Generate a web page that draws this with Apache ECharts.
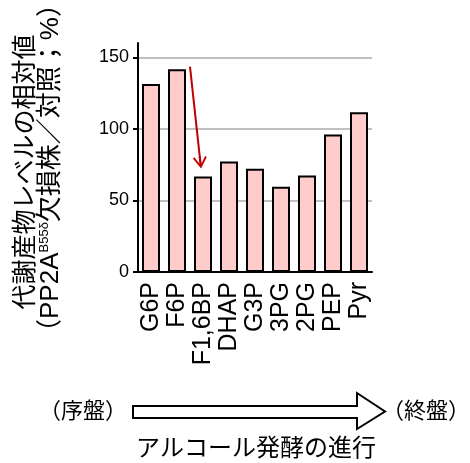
<!DOCTYPE html>
<html>
<head>
<meta charset="utf-8">
<script src="https://cdn.jsdelivr.net/npm/echarts@6/dist/echarts.min.js"></script>
<style>
html, body { margin: 0; padding: 0; background: #fff; }
#main { width: 470px; height: 463px; }
</style>
</head>
<body>
<div id="main"></div>
<script>
// 代謝産物 (解糖系の順)
var categories = ['G6P', 'F6P', 'F1,6BP', 'DHAP', 'G3P', '3PG', '2PG', 'PEP', 'Pyr'];
var values = [131.4, 141.7, 66.7, 77.2, 72.1, 59.5, 67.4, 96.0, 111.6];
var yTicks = [0, 50, 100, 150];
// 赤い矢印 (F6P → F1,6BP)
var arrowFrom = [1.5, 143.5];
var arrowTo = [1.9, 76.4];

var latin = "'Liberation Sans', Arial, 'Noto Sans CJK JP', sans-serif";
var cjk = "'Noto Sans CJK JP', 'Liberation Sans', sans-serif";

var chart = echarts.init(document.getElementById('main'));
var option = {
    animation: false,
    grid: {
        left: 138,
        right: 98,
        top: 43,
        bottom: 191
    },
    xAxis: [
        {
            type: 'category',
            data: categories,
            axisTick: { show: false },
            axisLine: { lineStyle: { color: '#000', width: 2 } },
            axisLabel: {
                interval: 0,
                rotate: 90,
                margin: 10,
                color: '#000',
                fontSize: 25,
                fontFamily: latin
            }
        },
        {
            // 矢印の位置決め用 (非表示)
            type: 'value',
            min: -0.5,
            max: 8.5,
            show: false
        }
    ],
    yAxis: {
        type: 'value',
        min: 0,
        max: 160,
        interval: 50,
        axisLine: { show: true, onZero: false, lineStyle: { color: '#000', width: 2 } },
        axisTick: {
            show: true,
            length: 5,
            customValues: yTicks,
            lineStyle: { color: '#000', width: 2 }
        },
        axisLabel: {
            margin: 9,
            color: '#000',
            fontSize: 18,
            fontFamily: latin,
            customValues: yTicks,
            formatter: function (v) { return v > 150 ? '' : v; }
        },
        splitLine: {
            lineStyle: {
                color: ['#c0c0c0', '#c0c0c0', '#c0c0c0', '#c0c0c0', 'rgba(0,0,0,0)'],
                width: 2
            }
        }
    },
    series: [
        {
            type: 'bar',
            data: values,
            barWidth: 18,
            itemStyle: {
                color: '#ffcccc',
                borderColor: '#000',
                borderWidth: 2
            }
        },
        {
            type: 'scatter',
            xAxisIndex: 1,
            data: [],
            silent: true,
            markLine: {
                silent: true,
                symbol: ['none', 'path://M7,0 L14,11 L12.4,12 L8,5 L8,12 L6,12 L6,5 L1.6,12 L0,11 Z'],
                symbolSize: [14, 12],
                label: { show: false },
                lineStyle: { color: '#c00000', width: 2, type: 'solid' },
                data: [[{ coord: arrowFrom }, { coord: arrowTo }]]
            }
        }
    ],
    graphic: [
        {
            type: 'text',
            x: 23,
            y: 172,
            rotation: Math.PI / 2,
            style: {
                text: '代謝産物レベルの相対値',
                fontSize: 25,
                fontFamily: cjk,
                fill: '#000',
                align: 'center',
                verticalAlign: 'middle'
            }
        },
        {
            type: 'text',
            x: 51,
            y: 168,
            rotation: Math.PI / 2,
            style: {
                text: '（PP2A{sup|B55δ}欠損株／対照；%）',
                fontSize: 26,
                fontFamily: latin,
                fill: '#000',
                align: 'center',
                verticalAlign: 'middle',
                rich: {
                    sup: {
                        fontSize: 13,
                        fontFamily: latin,
                        verticalAlign: 'top',
                        lineHeight: 15,
                        fill: '#000'
                    }
                }
            }
        },
        {
            type: 'polygon',
            shape: {
                points: [[133, 406], [357, 406], [357, 393], [385, 411.5], [357, 429], [357, 418], [133, 418]]
            },
            style: { fill: '#fff', stroke: '#000', lineWidth: 2 }
        },
        {
            type: 'text',
            x: 83,
            y: 410,
            style: {
                text: '（序盤）',
                fontSize: 22,
                fontFamily: cjk,
                fill: '#000',
                align: 'center',
                verticalAlign: 'middle'
            }
        },
        {
            type: 'text',
            x: 426,
            y: 410,
            style: {
                text: '（終盤）',
                fontSize: 22,
                fontFamily: cjk,
                fill: '#000',
                align: 'center',
                verticalAlign: 'middle'
            }
        },
        {
            type: 'text',
            x: 256,
            y: 447,
            style: {
                text: 'アルコール発酵の進行',
                fontSize: 24,
                fontFamily: cjk,
                fill: '#000',
                align: 'center',
                verticalAlign: 'middle'
            }
        }
    ]
};
chart.setOption(option);
</script>
</body>
</html>
